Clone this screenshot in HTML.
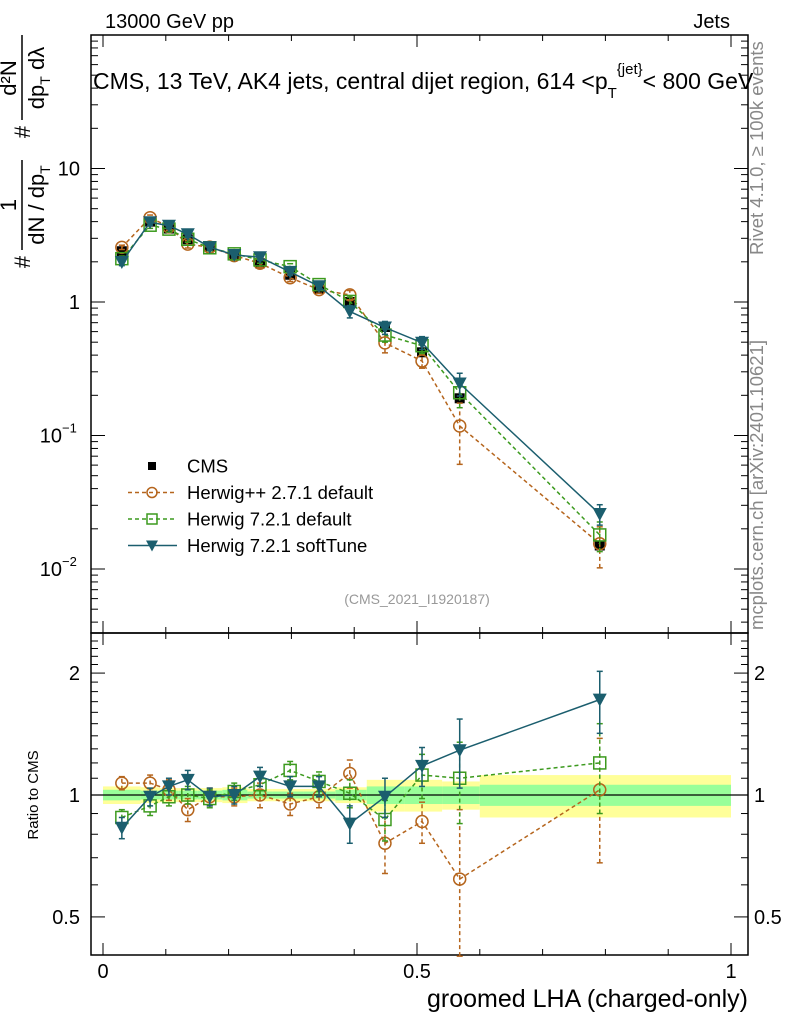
<!DOCTYPE html>
<html><head><meta charset="utf-8"><style>
body{margin:0;background:#fff;font-family:"Liberation Sans",sans-serif}
svg text{font-family:"Liberation Sans",sans-serif}
</style></head><body>
<svg id="c" width="786" height="1024" xmlns="http://www.w3.org/2000/svg">
<text x="105" y="28" font-size="20">13000 GeV pp</text>
<text x="730" y="28" font-size="20" text-anchor="end">Jets</text>
<text x="93" y="89" font-size="23">CMS, 13 TeV, AK4 jets, central dijet region, 614 &lt;p<tspan font-size="15" dy="9">T</tspan><tspan font-size="15" dy="-24">{jet}</tspan><tspan dy="15">&lt; 800 GeV</tspan></text>
<g transform="translate(0,270) rotate(-90)" font-size="22">
<text x="8" y="30" text-anchor="middle">#</text>
<line x1="20" x2="110" y1="22" y2="22" stroke="#000" stroke-width="1.5"/>
<text x="65" y="16" text-anchor="middle">1</text>
<text x="65" y="44" text-anchor="middle">dN / dp<tspan font-size="14" dy="6">T</tspan></text>
<text x="138" y="30" text-anchor="middle">#</text>
<line x1="150" x2="235" y1="22" y2="22" stroke="#000" stroke-width="1.5"/>
<text x="192" y="16" text-anchor="middle">d²N</text>
<text x="192" y="44" text-anchor="middle">dp<tspan font-size="14" dy="6">T</tspan><tspan dy="-6"> dλ</tspan></text>
</g>
<text transform="translate(763,255) rotate(-90)" font-size="18.5" fill="#888">Rivet 4.1.0, ≥ 100k events</text>
<text transform="translate(763,630) rotate(-90)" font-size="18.5" fill="#888">mcplots.cern.ch [arXiv:2401.10621]</text>
<text x="417" y="604" font-size="14" fill="#999" text-anchor="middle">(CMS_2021_I1920187)</text>
<text transform="translate(38,795) rotate(-90)" font-size="15" text-anchor="middle">Ratio to CMS</text>
<text x="748" y="1007" font-size="25" text-anchor="end">groomed LHA (charged-only)</text>
<g id="g"></g>
</svg>
<script>
const xs=[0.030,0.075,0.105,0.135,0.170,0.209,0.250,0.298,0.344,0.393,0.449,0.508,0.568,0.791];
const cms=[2.4,4.0,3.55,2.95,2.6,2.25,1.95,1.6,1.25,1.0,0.65,0.42,0.19,0.015];
const binEdges=[0,0.06,0.09,0.12,0.15,0.19,0.23,0.27,0.32,0.37,0.42,0.48,0.54,0.6,1.0];
const statUnc=[0.03,0.025,0.025,0.025,0.025,0.03,0.02,0.02,0.02,0.03,0.05,0.05,0.05,0.06];
const totUnc=[0.05,0.045,0.04,0.04,0.04,0.045,0.035,0.035,0.035,0.045,0.09,0.09,0.08,0.12];
const rHpp=[1.07,1.07,1.03,0.92,0.99,0.99,1.0,0.95,0.99,1.13,0.76,0.86,0.62,1.03];
const eHpp=[0.04,0.05,0.06,0.06,0.05,0.05,0.07,0.06,0.06,0.09,0.12,0.1,0.3,0.35];
const rH7=[0.88,0.94,0.99,1.0,0.98,1.02,1.06,1.15,1.08,1.01,0.87,1.12,1.1,1.2];
const eH7=[0.04,0.05,0.05,0.05,0.05,0.05,0.06,0.06,0.06,0.08,0.1,0.14,0.25,0.3];
const rSoft=[0.83,0.99,1.05,1.09,0.99,1.0,1.11,1.05,1.05,0.85,0.99,1.18,1.29,1.72];
const eSoft=[0.05,0.05,0.05,0.06,0.05,0.05,0.06,0.06,0.06,0.09,0.11,0.13,0.25,0.3];
const xTicks=[0,0.5,1];const xTickLabels=["0","0.5","1"];
const NS="http://www.w3.org/2000/svg",G=document.getElementById('g');
function X(v){return 103+628*v}
function Y(v){return 302-133.5*Math.log10(v)}
function R(v){return 795-405*Math.log10(v)}
function el(t,a,n,p){const e=document.createElementNS(NS,t);for(const k in a)e.setAttribute(k,a[k]);


(p||G).appendChild(e);return e}
for(let i=0;i<xs.length;i++){const x0=X(binEdges[i]),x1=X(binEdges[i+1]);
el('rect',{x:x0,y:R(1+totUnc[i]),width:x1-x0,height:R(1-totUnc[i])-R(1+totUnc[i]),fill:'#ffff99'},'total-band');
el('rect',{x:x0,y:R(1+statUnc[i]),width:x1-x0,height:R(1-statUnc[i])-R(1+statUnc[i]),fill:'#99ff99'},'stat-band');}
el('line',{x1:91,x2:748,y1:795,y2:795,stroke:'#000','stroke-width':1.2},'ratio-unity-line');
el('rect',{x:91,y:35,width:657,height:598,fill:'none',stroke:'#000','stroke-width':1.5},'main-frame');
el('rect',{x:91,y:633,width:657,height:322,fill:'none',stroke:'#000','stroke-width':1.5},'ratio-frame');
for(let v=0;v<=1.0001;v+=0.1){const big=Math.abs(v*2-Math.round(v*2))<1e-6;const L=big?12:6;
for(const [yb,yt] of [[633,35],[955,633]]){el('line',{x1:X(v),x2:X(v),y1:yb,y2:yb-L,stroke:'#000'},'x-tick');el('line',{x1:X(v),x2:X(v),y1:yt,y2:yt+L,stroke:'#000'},'x-tick');}}
xTicks.forEach((v,i)=>{const t=el('text',{x:X(v),y:978,'font-size':20,'text-anchor':'middle'},'x-tick-label');t.textContent=xTickLabels[i];});
for(let d=-3;d<=1;d++)for(let m=1;m<10;m++){const v=m*Math.pow(10,d);const y=Y(v);if(y<35||y>633)continue;const L=m==1?14:7;
el('line',{x1:91,x2:91+L,y1:y,y2:y,stroke:'#000'},'y-tick');el('line',{x1:748,x2:748-L,y1:y,y2:y,stroke:'#000'},'y-tick');}
[[10,'10'],[1,'1']].forEach(([v,s])=>{const t=el('text',{x:80,y:Y(v)+7,'font-size':20,'text-anchor':'end'},'y-tick-label');t.textContent=s;});
[[0.1,'−1'],[0.01,'−2']].forEach(([v,s])=>{const t=el('text',{x:62,y:Y(v)+7,'font-size':20,'text-anchor':'end'},'y-tick-label');t.textContent='10';const u=el('text',{x:62,y:Y(v)-3,'font-size':13},'y-tick-exp');u.textContent=s;});
for(let v=0.4;v<=2.5;v+=0.1){const y=R(v);if(y<633||y>955)continue;const big=[0.5,1,2].some(b=>Math.abs(b-v)<1e-6);const L=big?14:7;
el('line',{x1:91,x2:91+L,y1:y,y2:y,stroke:'#000'},'ratio-tick');el('line',{x1:748,x2:748-L,y1:y,y2:y,stroke:'#000'},'ratio-tick');}
[[2,'2'],[1,'1'],[0.5,'0.5']].forEach(([v,s])=>{const t=el('text',{x:80,y:R(v)+7,'font-size':20,'text-anchor':'end'},'ratio-tick-label');t.textContent=s;const t2=el('text',{x:754,y:R(v)+7,'font-size':20},'ratio-tick-label-right');t2.textContent=s;});
function mark(type,x,y,c,n,s){s=s||6;
if(type=='sq')el('rect',{x:x-s,y:y-s,width:2*s,height:2*s,fill:'none',stroke:c,'stroke-width':1.5},n);
else if(type=='circ')el('circle',{cx:x,cy:y,r:s,fill:'none',stroke:c,'stroke-width':1.5},n);
else if(type=='tri')el('path',{d:`M${x-s-1},${y-s}L${x+s+1},${y-s}L${x},${y+s+1}Z`,fill:c},n);
else el('rect',{x:x-s+1,y:y-s+1,width:2*s-2,height:2*s-2,fill:c},n);}
function series(r,e,c,type,dash,name,main){
 const pts=xs.map((x,i)=>[X(x),main?Y(cms[i]*r[i]):R(r[i])]);
 el('polyline',{points:pts.map(p=>p.join(',')).join(' '),fill:'none',stroke:c,'stroke-width':1.5,'stroke-dasharray':dash},name+'-line');
 xs.forEach((x,i)=>{const lo=main?Y(cms[i]*(r[i]-e[i])):R(Math.max(r[i]-e[i],0.4)),hi=main?Y(cms[i]*(r[i]+e[i])):R(r[i]+e[i]);
 el('line',{x1:pts[i][0],x2:pts[i][0],y1:lo,y2:hi,stroke:c,'stroke-width':1.5,'stroke-dasharray':dash},name+'-errorbar');
 el('line',{x1:pts[i][0]-3,x2:pts[i][0]+3,y1:lo,y2:lo,stroke:c,'stroke-width':1.5},name+'-errcap');
 el('line',{x1:pts[i][0]-3,x2:pts[i][0]+3,y1:hi,y2:hi,stroke:c,'stroke-width':1.5},name+'-errcap');
 mark(type,pts[i][0],pts[i][1],c,name+'-point');});}
xs.forEach((x,i)=>{el('line',{x1:X(x),x2:X(x),y1:Y(cms[i]*(1-totUnc[i])),y2:Y(cms[i]*(1+totUnc[i])),stroke:'#000'},'cms-errorbar');mark('cms',X(x),Y(cms[i]),'#000','cms-point');});
const cH='#b5651d',cG='#3c9a1e',cS='#1b5e6e';
for(const main of [true,false]){
series(rHpp,eHpp,cH,'circ','4,3','herwigpp',main);
series(rH7,eH7,cG,'sq','4,3','herwig7-default',main);
series(rSoft,eSoft,cS,'tri','','herwig7-softtune',main);}
const leg=[['cms','#000','','CMS'],['circ',cH,'4,3','Herwig++ 2.7.1 default'],['sq',cG,'4,3','Herwig 7.2.1 default'],['tri',cS,'','Herwig 7.2.1 softTune']];
leg.forEach((l,i)=>{const y=466+26.5*i;
if(i>0)el('line',{x1:128,x2:177,y1:y,y2:y,stroke:l[1],'stroke-width':1.5,'stroke-dasharray':l[2]},'legend-line');
mark(l[0],152,y,l[1],'legend-marker',5);
const t=el('text',{x:187,y:y+6.5,'font-size':18.5},'legend-entry');t.textContent=l[3];});
</script>
</body></html>
